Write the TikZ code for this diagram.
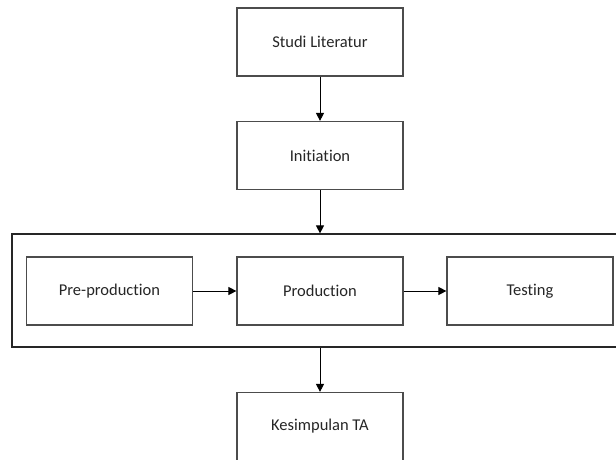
\documentclass[tikz,border=0pt]{standalone}
\usepackage{fontspec}
\setmainfont{Carlito}[Ligatures=NoCommon]
\usetikzlibrary{arrows.meta}
\begin{document}
\begin{tikzpicture}[x=1pt,y=-1pt,
  boxstyle/.style={draw=black!70, line width=1.2pt, fill=white, minimum width=166pt, minimum height=68pt, inner sep=0pt, font=\fontsize{16.5}{19}\selectfont, text=black!85},
  arr/.style={draw=black, line width=1pt, -{Triangle[width=8pt,length=8pt]}}]
\useasboundingbox (0,0) rectangle (616,459);
\clip (0,0) rectangle (616,459);
\node[boxstyle] (studi) at (320,42) {Studi Literatur};
\node[boxstyle] (init) at (320,155.5) {Initiation};
\node[draw=black!85, line width=1.2pt, minimum width=612pt, minimum height=113pt, inner sep=0pt] (outer) at (318,290.5) {};
\node[boxstyle] (pre) at (109.5,291) {Pre-production};
\node[boxstyle] (prod) at (320,291) {Production};
\node[boxstyle] (test) at (530,291) {Testing};
\node[boxstyle] (kes) at (320,426.5) {Kesimpulan TA};
\draw[arr] (studi) -- (init);
\draw[arr] (init.south) -- (init.south |- outer.north);
\draw[arr] (pre) -- (prod);
\draw[arr] (prod) -- (test);
\draw[arr] (kes.north |- outer.south) -- (kes.north);
\end{tikzpicture}
\end{document}
